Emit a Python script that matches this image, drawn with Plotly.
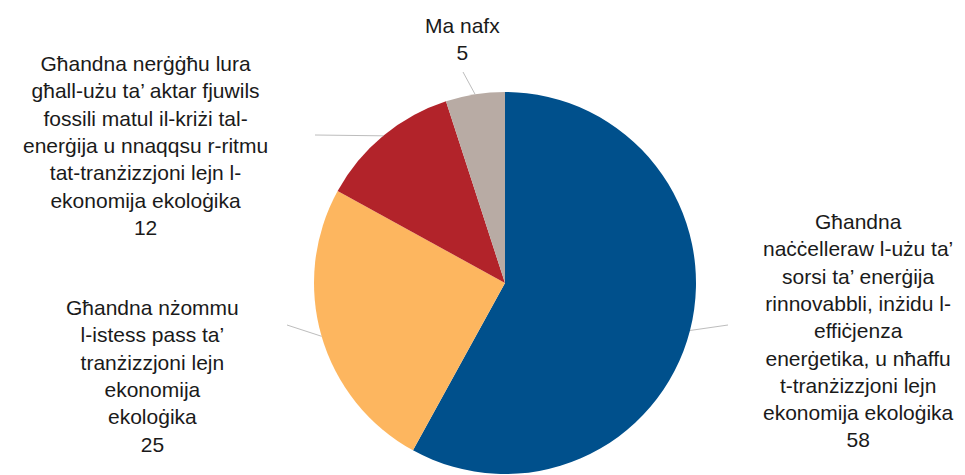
import numpy as np
import plotly.graph_objects as go

#########################
###       DATA        ###
#########################

labels = [
    "Għandna naċċelleraw l-użu ta’ sorsi ta’ enerġija rinnovabbli, inżidu l-effiċjenza enerġetika, u nħaffu t-tranżizzjoni lejn ekonomija ekoloġika",
    "Għandna nżommu l-istess pass ta’ tranżizzjoni lejn ekonomija ekoloġika",
    "Għandna nerġġħu lura għall-użu ta’ aktar fjuwils fossili matul il-kriżi tal-enerġija u nnaqqsu r-ritmu tat-tranżizzjoni lejn l-ekonomija ekoloġika",
    "Ma nafx",
]
values = [58, 25, 12, 5]
label_lines = [
    ["Għandna", "naċċelleraw l-użu ta’", "sorsi ta’ enerġija", "rinnovabbli, inżidu l-",
     "effiċjenza", "enerġetika, u nħaffu", "t-tranżizzjoni lejn", "ekonomija ekoloġika"],
    ["Għandna nżommu", "l-istess pass ta’", "tranżizzjoni lejn", "ekonomija", "ekoloġika"],
    ["Għandna nerġġħu lura", "għall-użu ta’ aktar fjuwils", "fossili matul il-kriżi tal-",
     "enerġija u nnaqqsu r-ritmu", "tat-tranżizzjoni lejn l-", "ekonomija ekoloġika"],
    ["Ma nafx"],
]
colors = ["#00508C", "#FDB65F", "#B2232A", "#B8ABA4"]

#########################
###      LAYOUT       ###
#########################

W, H = 965, 475
cx, cy, r = 505, 283, 191

# label text centre (px) and leader tail end (px)
label_pos = [(858, 330), (152, 376), (145, 145), (462, 39)]
leader_end = [(728, 325), (287, 325), (315, 135), (463, 72)]


def px(x, y):
    return x / W, 1 - y / H


fig = go.Figure(go.Pie(
    labels = labels,
    values = values,
    marker = dict(colors = colors, line = dict(width = 0)),
    sort = False,
    direction = "clockwise",
    rotation = 0,
    textinfo = "none",
    hoverinfo = "label+value",
    showlegend = False,
    domain = dict(x = [(cx - r) / W, (cx + r) / W], y = [(H - cy - r) / H, (H - cy + r) / H]),
))

# leader lines from slice mid-angle on the rim
total = sum(values)
start = 0
shapes = []
for v, (ex, ey) in zip(values, leader_end):
    mid = (start + v / 2) / total * 2 * np.pi
    start += v
    sx = cx + r * np.sin(mid)
    sy = cy - r * np.cos(mid)
    x0, y0 = px(sx, sy)
    x1, y1 = px(ex, ey)
    shapes.append(dict(type = "line", xref = "paper", yref = "paper",
                       x0 = x0, y0 = y0, x1 = x1, y1 = y1,
                       line = dict(color = "#BDBDBD", width = 1)))

annotations = []
for lines, v, (lx, ly) in zip(label_lines, values, label_pos):
    x, y = px(lx, ly)
    annotations.append(dict(
        x = x, y = y, xref = "paper", yref = "paper",
        text = "<br>".join(lines + [str(v)]),
        showarrow = False, xanchor = "center", yanchor = "middle",
        font = dict(family = "Liberation Sans, Arial, sans-serif", size = 21, color = "#1a1a1a"),
    ))

fig.update_layout(
    width = W, height = H,
    margin = dict(l = 0, r = 0, t = 0, b = 0),
    paper_bgcolor = "white",
    plot_bgcolor = "white",
    shapes = shapes,
    annotations = annotations,
)

# drop the default page margin so the figure sits at the window corner
fig.write_html("out.html", config = {"displayModeBar": False},
               post_script = "document.body.style.margin = '0px';")
